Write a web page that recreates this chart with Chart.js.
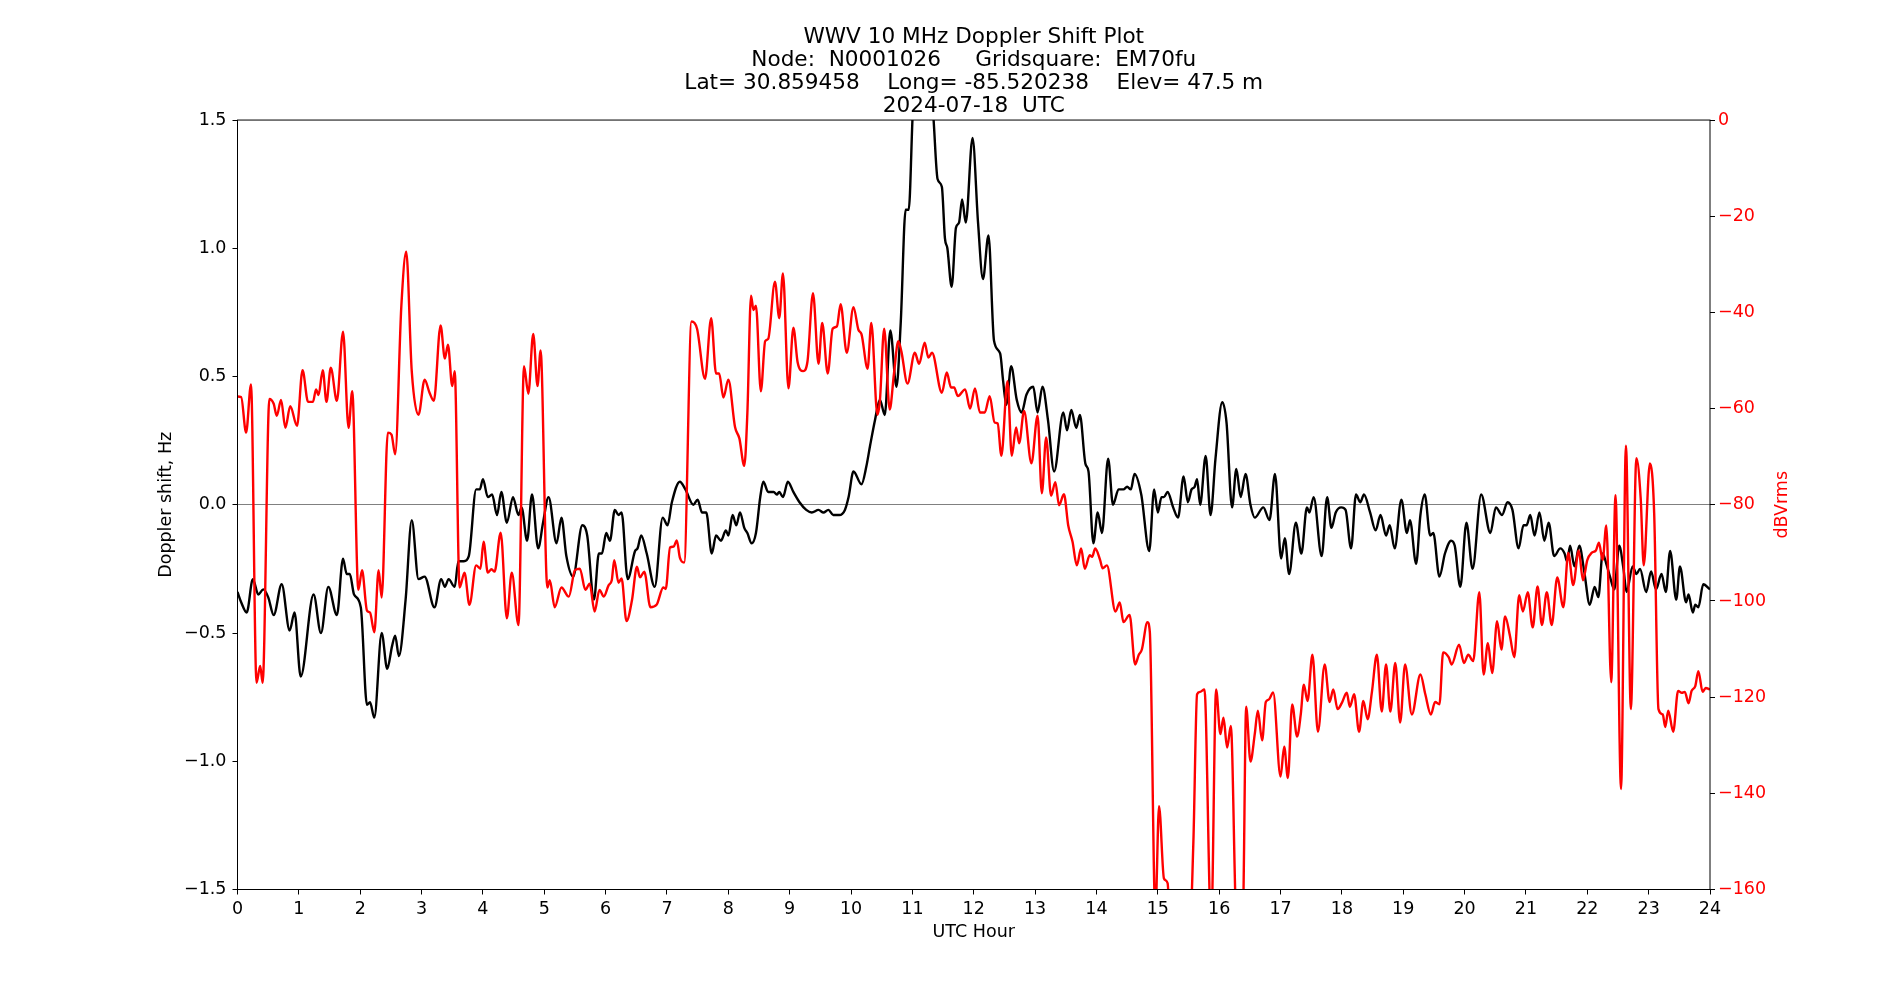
<!DOCTYPE html>
<html>
<head>
<meta charset="utf-8">
<title>WWV 10 MHz Doppler Shift Plot</title>
<script src="https://cdn.jsdelivr.net/npm/chart.js@4.4.1/dist/chart.umd.min.js"></script>
<style>
  html, body { margin: 0; padding: 0; background: #fff; }
  #wrap { width: 1900px; height: 1000px; }
</style>
</head>
<body>
<div id="wrap"><canvas id="dopplerChart"></canvas></div>
<script>
const titleLines = [
  "WWV 10 MHz Doppler Shift Plot",
  "Node:  N0001026     Gridsquare:  EM70fu",
  "Lat= 30.859458    Long= -85.520238    Elev= 47.5 m",
  "2024-07-18  UTC"
];

// Doppler shift (Hz), left axis
const blackHours = [0.00,0.06,0.15,0.25,0.34,0.42,0.50,0.59,0.72,0.85,0.93,1.03,1.24,1.36,1.48,1.62,1.72,1.78,1.83,1.90,
  2.01,2.11,2.16,2.23,2.35,2.44,2.52,2.57,2.63,2.74,2.84,2.95,3.05,3.21,3.32,3.38,3.44,3.54,3.60,3.69,3.77,3.89,3.95,
  4.00,4.08,4.15,4.23,4.30,4.39,4.49,4.58,4.63,4.72,4.80,4.90,4.98,5.07,5.20,5.28,5.36,5.47,5.62,5.70,5.81,5.89,5.94,
  6.01,6.07,6.15,6.21,6.26,6.36,6.48,6.52,6.58,6.67,6.80,6.93,7.01,7.08,7.21,7.30,7.43,7.50,7.57,7.64,7.73,7.80,7.88,7.96,
  8.00,8.07,8.13,8.19,8.26,8.31,8.38,8.45,8.52,8.57,8.65,8.74,8.79,8.83,8.89,8.97,9.06,9.16,9.27,9.36,9.47,9.55,9.63,9.71,9.81,9.90,9.96,
  10.04,10.17,10.25,10.31,10.39,10.47,10.55,10.64,10.74,10.81,10.89,10.94,11.01,11.10,11.25,11.34,11.41,11.48,11.53,11.57,11.64,11.71,11.76,11.81,11.87,11.98,
  12.07,12.15,12.24,12.33,12.43,12.48,12.53,12.61,12.70,12.78,12.86,12.97,13.04,13.12,13.21,13.31,13.46,13.52,13.59,13.67,13.73,13.82,13.87,13.95,
  14.02,14.09,14.19,14.27,14.36,14.44,14.50,14.56,14.62,14.73,14.86,14.94,15.00,15.06,15.10,15.16,15.25,15.33,15.42,15.49,15.55,15.60,15.64,15.69,15.78,15.86,15.94,
  16.05,16.12,16.21,16.28,16.35,16.43,16.51,16.58,16.72,16.82,16.91,17.01,17.07,17.14,17.25,17.34,17.43,17.47,17.54,17.67,17.76,17.83,17.90,17.99,
  18.06,18.15,18.23,18.30,18.36,18.46,18.55,18.63,18.72,18.78,18.86,18.97,19.06,19.11,19.21,19.28,19.35,19.44,19.49,19.59,19.68,19.78,19.84,19.93,
  20.03,20.13,20.27,20.42,20.51,20.61,20.70,20.78,20.88,20.96,21.01,21.07,21.14,21.22,21.30,21.37,21.46,21.56,21.63,21.67,21.72,21.79,21.87,21.95,
  22.04,22.12,22.18,22.25,22.31,22.37,22.44,22.52,22.59,22.64,22.74,22.80,22.86,22.96,23.04,23.12,23.21,23.28,23.35,23.45,23.51,23.61,23.65,23.72,23.76,23.81,23.89,24.00];
const blackHz = [-0.34,-0.38,-0.42,-0.29,-0.35,-0.33,-0.36,-0.43,-0.31,-0.49,-0.42,-0.67,-0.35,-0.50,-0.32,-0.43,-0.21,-0.27,-0.27,-0.35,
  -0.40,-0.78,-0.77,-0.83,-0.50,-0.64,-0.55,-0.51,-0.59,-0.37,-0.06,-0.29,-0.28,-0.40,-0.29,-0.32,-0.29,-0.32,-0.22,-0.22,-0.20,0.06,0.06,
  0.10,0.03,0.04,-0.04,0.05,-0.07,0.03,-0.04,-0.01,-0.14,0.04,-0.17,-0.07,0.03,-0.15,-0.05,-0.20,-0.28,-0.08,-0.12,-0.37,-0.19,-0.19,
  -0.11,-0.14,-0.02,-0.04,-0.03,-0.29,-0.18,-0.17,-0.12,-0.19,-0.32,-0.05,-0.08,0.01,0.09,0.06,0.00,0.02,-0.03,-0.03,-0.19,-0.12,-0.14,-0.10,
  -0.12,-0.04,-0.08,-0.03,-0.09,-0.11,-0.15,-0.11,0.03,0.09,0.05,0.05,0.04,0.05,0.03,0.09,0.05,0.01,-0.02,-0.03,-0.02,-0.03,-0.02,-0.04,-0.04,-0.02,0.03,
  0.13,0.08,0.15,0.23,0.33,0.41,0.35,0.68,0.46,0.71,1.15,1.15,1.55,1.75,1.75,1.52,1.27,1.24,1.04,1.00,0.85,1.08,1.10,1.19,1.10,1.43,
  1.10,0.88,1.05,0.64,0.59,0.48,0.39,0.54,0.41,0.36,0.43,0.46,0.36,0.46,0.33,0.13,0.36,0.29,0.37,0.30,0.35,0.16,0.13,-0.15,
  -0.03,-0.11,0.18,0.00,0.06,0.06,0.07,0.06,0.12,0.04,-0.18,0.06,-0.03,0.03,0.03,0.05,-0.01,-0.05,0.11,0.01,0.06,0.07,0.10,0.00,0.19,-0.04,0.18,
  0.40,0.32,-0.01,0.14,0.03,0.12,0.00,-0.05,-0.01,-0.06,0.12,-0.21,-0.13,-0.27,-0.07,-0.19,-0.01,-0.03,0.03,-0.20,0.03,-0.09,-0.03,-0.01,
  -0.02,-0.17,0.04,0.01,0.04,-0.03,-0.10,-0.04,-0.12,-0.08,-0.17,0.02,-0.11,-0.06,-0.23,-0.04,0.04,-0.12,-0.11,-0.28,-0.19,-0.14,-0.16,-0.32,
  -0.07,-0.25,0.04,-0.11,-0.01,-0.04,0.01,-0.02,-0.17,-0.08,-0.08,-0.04,-0.12,-0.03,-0.14,-0.07,-0.20,-0.17,-0.19,-0.22,-0.16,-0.24,-0.16,-0.26,
  -0.39,-0.32,-0.36,-0.19,-0.23,-0.28,-0.33,-0.16,-0.25,-0.34,-0.24,-0.27,-0.25,-0.34,-0.26,-0.33,-0.27,-0.34,-0.18,-0.37,-0.24,-0.38,-0.35,-0.42,-0.39,-0.40,-0.31,-0.33];

// signal level (dBVrms), right axis
const redHours = [0.00,0.06,0.14,0.22,0.31,0.37,0.41,0.52,0.59,0.64,0.71,0.78,0.86,0.97,1.06,1.15,1.23,1.28,1.32,1.39,1.45,1.52,1.62,1.72,1.81,1.87,1.97,
  2.03,2.11,2.16,2.23,2.30,2.35,2.45,2.51,2.57,2.67,2.75,2.84,2.95,3.05,3.13,3.20,3.31,3.38,3.43,3.50,3.54,3.62,3.70,3.78,3.89,3.96,
  4.01,4.08,4.14,4.19,4.29,4.39,4.47,4.58,4.67,4.74,4.82,4.89,4.94,5.05,5.09,5.17,5.28,5.40,5.50,5.58,5.67,5.74,5.82,5.90,5.97,
  6.05,6.10,6.14,6.21,6.26,6.34,6.43,6.51,6.56,6.63,6.73,6.83,6.94,6.98,7.05,7.11,7.16,7.21,7.28,7.40,7.49,7.62,7.72,7.80,7.85,7.92,
  8.00,8.11,8.18,8.26,8.31,8.37,8.41,8.45,8.53,8.60,8.65,8.76,8.83,8.89,8.98,9.06,9.13,9.22,9.29,9.38,9.47,9.53,9.62,9.70,9.77,9.83,9.93,
  10.04,10.12,10.17,10.27,10.33,10.43,10.47,10.54,10.63,10.70,10.77,10.82,10.92,11.04,11.11,11.20,11.26,11.32,11.48,11.56,11.63,11.68,11.74,11.86,11.94,
  12.02,12.10,12.18,12.26,12.34,12.39,12.45,12.55,12.62,12.69,12.74,12.82,12.94,13.04,13.11,13.18,13.26,13.33,13.39,13.47,13.54,13.61,13.68,13.75,13.81,13.89,13.93,13.98,
  14.06,14.10,14.17,14.31,14.38,14.44,14.54,14.63,14.69,14.74,14.83,14.87,14.96,15.02,15.10,15.16,15.22,15.50,15.58,15.64,15.69,15.76,15.87,15.95,
  16.02,16.07,16.13,16.19,16.28,16.34,16.39,16.44,16.51,16.58,16.63,16.70,16.76,16.81,16.88,17.00,17.06,17.12,17.19,17.27,17.33,17.38,17.44,17.52,17.61,17.72,17.80,17.86,17.93,
  18.00,18.08,18.13,18.20,18.28,18.35,18.42,18.49,18.57,18.65,18.72,18.79,18.87,18.95,19.03,19.14,19.28,19.36,19.45,19.52,19.59,19.65,19.74,19.79,19.91,19.99,
  20.06,20.14,20.24,20.31,20.38,20.45,20.53,20.60,20.66,20.74,20.81,20.89,20.95,21.03,21.11,21.19,21.26,21.34,21.42,21.51,21.61,21.69,21.77,21.86,21.93,
  22.00,22.07,22.14,22.19,22.25,22.31,22.39,22.46,22.55,22.63,22.71,22.80,22.87,22.92,23.02,23.09,23.16,23.23,23.27,23.32,23.40,23.48,23.54,23.59,23.65,23.70,23.76,23.81,23.88,23.93,24.00];
const redDbv = [-57.5,-57.6,-65,-55,-117,-113.5,-117,-58,-59,-61.5,-58.2,-64,-59.5,-63.6,-52,-58.6,-58.6,-56,-57.2,-52,-58.6,-51.5,-58.4,-44,-64,-56.4,-97.7,
  -93.6,-102,-102.4,-106.5,-93.6,-99.3,-65,-65.4,-69.5,-38.8,-27.4,-52.2,-61.3,-54,-56.7,-58.4,-42.7,-49.6,-46.7,-55.3,-52.2,-97.2,-94.1,-100.8,-92.6,-93.3,
  -87.7,-94.1,-93.4,-93.9,-85.8,-103.6,-94.1,-105,-51.2,-56.9,-44.5,-55.3,-47.9,-97.2,-95.7,-101.3,-97.2,-99.1,-93.6,-93.3,-97.7,-96.4,-102.2,-97.7,-99.1,
  -96.7,-95.7,-91.5,-96.2,-95.3,-104.2,-99.8,-92.9,-95.1,-93.9,-101.3,-100.8,-97.2,-97.5,-88.9,-88.7,-87.4,-91,-92,-41.9,-43.4,-53.8,-41.2,-52.7,-52.7,-57.7,
  -54,-63.9,-66.2,-71.9,-61,-36.5,-39.5,-38.6,-56.4,-46,-45.5,-33.6,-41.2,-31.9,-55.8,-43.2,-50.4,-52.2,-50.2,-36,-50.7,-42.2,-52.7,-43.4,-42.9,-38.3,-48.4,
  -38.9,-43.6,-44.5,-51.7,-42.2,-61.3,-58.4,-43.4,-60.2,-52.7,-46,-48.1,-54.8,-48.4,-50.7,-46.3,-49.4,-48.4,-56.7,-52.5,-55.6,-55.6,-57.4,-56,-60,
  -55.8,-60.8,-60.8,-57.4,-62.9,-63.1,-69.8,-54.3,-69.8,-63.9,-67.2,-60.5,-71.4,-61.5,-77.6,-66,-78.1,-75.3,-80.1,-77.8,-84.3,-87.7,-92.6,-89.1,-93.3,-90.5,-90.8,-89.1,
  -91.5,-93.2,-92.6,-102.2,-100.3,-104.4,-102.9,-113.2,-111.2,-110.1,-104.4,-106.5,-165,-142.7,-157.7,-158.7,-175,-175,-150,-119.4,-118.9,-118.4,-168,-118.4,
  -127.7,-124.3,-130.5,-126,-168,-172,-165,-122,-133.4,-127.7,-122.8,-129,-121,-120.5,-119,-136.5,-130.3,-136.8,-121.5,-128.2,-123.6,-117.4,-120.8,-111.2,-127.2,-113.2,-121,-118.4,-122.5,
  -121.2,-119.1,-122,-119.4,-127.2,-120.8,-124.6,-118.9,-111.2,-123,-113.2,-123,-112.9,-125.3,-113.2,-123.6,-115.3,-119.4,-123.6,-121,-121.5,-110.7,-111.7,-113.2,-109.1,-112.9,
  -111.2,-112.5,-98.2,-115.3,-108.8,-115,-104.2,-110.1,-103.2,-107.3,-111.7,-98.8,-102.2,-98.2,-105.5,-97,-105,-98.2,-105,-95.1,-101.3,-90,-96.7,-89.5,-95.7,
  -91.5,-90,-89.5,-87.9,-91.5,-84.3,-116.9,-78,-139.1,-67.7,-122.5,-70.3,-78.6,-92.6,-71.4,-81.7,-122.5,-123.6,-126.2,-122.8,-127.2,-118.7,-119.1,-118.9,-121.3,-118.7,-117.7,-114.6,-118.9,-118.1,-118.4];

const FONT = "'DejaVu Sans', sans-serif";
const LABEL_SIZE = 17.5;

// matplotlib style minus sign
function fmt(v, digits) {
  const s = Math.abs(v).toFixed(digits);
  return v < -1e-9 ? "\u2212" + s : s;
}

function toPoints(xs, ys) {
  return xs.map((x, i) => ({ x: x, y: ys[i] }));
}

// box around the plot and the red label of the right axis (reads bottom to top)
const framePlugin = {
  id: "frame",
  afterDraw(chart) {
    const { ctx, chartArea: a } = chart;
    ctx.save();
    ctx.strokeStyle = "#000";
    ctx.lineWidth = 1;
    ctx.strokeRect(a.left, a.top, a.right - a.left, a.bottom - a.top);
    ctx.translate(1782, (a.top + a.bottom) / 2);
    ctx.rotate(-Math.PI / 2);
    ctx.fillStyle = "red";
    ctx.font = LABEL_SIZE + "px " + FONT;
    ctx.textAlign = "center";
    ctx.textBaseline = "middle";
    ctx.fillText("dBVrms", 0, 0);
    ctx.restore();
  }
};

const tickFont = { family: FONT, size: LABEL_SIZE };

new Chart(document.getElementById("dopplerChart"), {
  type: "line",
  data: {
    datasets: [
      {
        label: "dBVrms",
        data: toPoints(redHours, redDbv),
        yAxisID: "y2",
        borderColor: "red",
        borderWidth: 2.4,
        pointRadius: 0,
        cubicInterpolationMode: "monotone",
        order: 0
      },
      {
        label: "Doppler shift, Hz",
        data: toPoints(blackHours, blackHz),
        yAxisID: "y",
        borderColor: "#000",
        borderWidth: 2.4,
        pointRadius: 0,
        cubicInterpolationMode: "monotone",
        order: 1
      }
    ]
  },
  options: {
    responsive: true,
    maintainAspectRatio: false,
    animation: false,
    layout: { padding: { left: 156, right: 0, top: 0, bottom: 57.5 } },
    plugins: {
      legend: { display: false },
      tooltip: { enabled: false },
      title: {
        display: true,
        text: titleLines,
        color: "#000",
        fullSize: false,
        font: { family: FONT, size: 21.6, weight: "normal", lineHeight: 1.07 },
        padding: { top: 25.6, bottom: 2 }
      }
    },
    scales: {
      x: {
        type: "linear",
        min: 0,
        max: 24,
        ticks: { stepSize: 1, autoSkip: false, maxRotation: 0, color: "#000", font: tickFont, padding: 4 },
        grid: { drawOnChartArea: false, tickLength: 5, tickColor: "#000" },
        border: { display: false },
        title: { display: true, text: "UTC Hour", color: "#000", font: tickFont, padding: 0 },
        afterFit: s => { s.height = 53; }
      },
      y: {
        position: "left",
        min: -1.5,
        max: 1.5,
        ticks: { stepSize: 0.5, color: "#000", font: tickFont, padding: 6, callback: v => fmt(v, 1) },
        grid: {
          color: c => (c.tick && Math.abs(c.tick.value) < 1e-9 ? "#808080" : "rgba(0,0,0,0)"),
          lineWidth: 1,
          tickLength: 5,
          tickColor: "#000"
        },
        border: { display: false },
        title: { display: true, text: "Doppler shift, Hz", color: "#000", font: tickFont, padding: 0 },
        afterFit: s => { s.width = 81.5; }
      },
      y2: {
        position: "right",
        min: -160,
        max: 0,
        ticks: { stepSize: 20, color: "red", font: tickFont, padding: 3, callback: v => fmt(v, 0) },
        grid: { drawOnChartArea: false, tickLength: 5, tickColor: "#000" },
        border: { display: false },
        afterFit: s => { s.width = 190; }
      }
    }
  },
  plugins: [framePlugin]
});
</script>
</body>
</html>
